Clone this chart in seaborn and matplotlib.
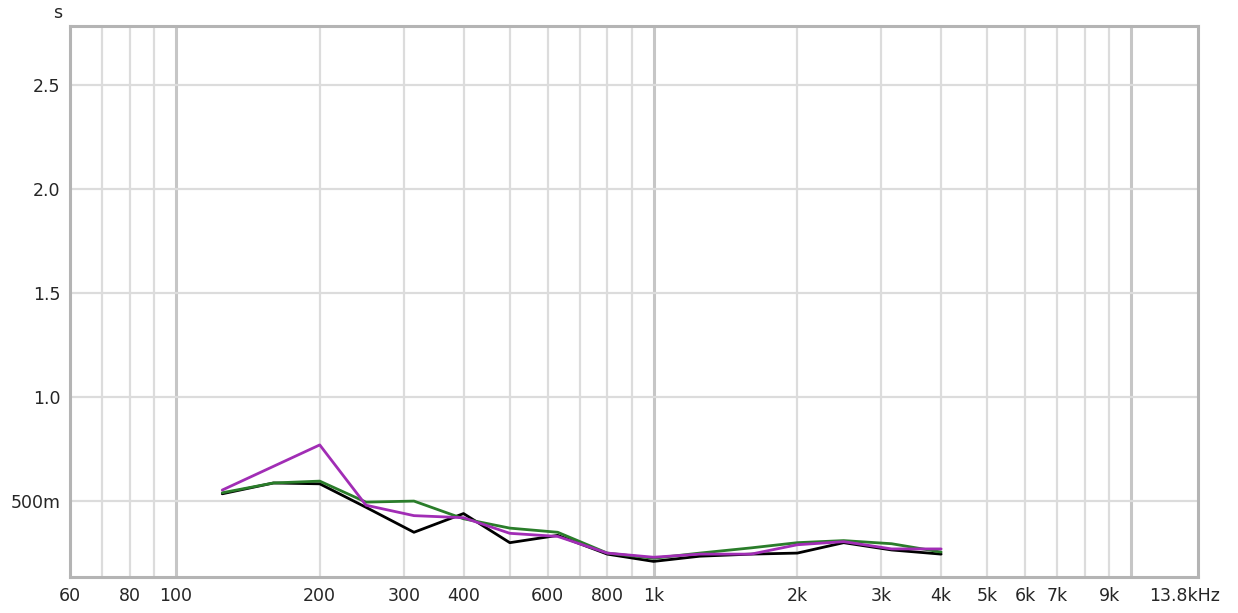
import pandas as pd
import numpy as np
import matplotlib.pyplot as plt
import matplotlib.transforms as mtransforms
import seaborn as sns
from matplotlib.ticker import FixedLocator, NullFormatter, NullLocator

sns.set_theme(style="white")
plt.rcParams['font.family'] = ['DejaVu Sans']

# 1/3-octave band centre frequencies (Hz)
freqs = [125, 160, 200, 250, 315, 400, 500, 630, 800, 1000,
         1250, 1600, 2000, 2500, 3150, 4000]

# reverberation time (s) per measurement
t_black = [0.535, 0.587, 0.583, 0.47, 0.35, 0.44, 0.30, 0.335, 0.245, 0.21,
           0.235, 0.245, 0.25, 0.30, 0.265, 0.245]
t_green = [0.54, 0.587, 0.596, 0.495, 0.50, 0.415, 0.37, 0.35, 0.25, 0.225,
           0.25, 0.275, 0.30, 0.31, 0.295, 0.255]
# magenta has no 160 Hz value: goes straight from 125 to 200 Hz
t_magenta = [0.553, None, 0.77, 0.48, 0.43, 0.42, 0.345, 0.33, 0.25, 0.23,
             0.245, 0.245, 0.29, 0.305, 0.27, 0.27]

series_names = ['black', 'green', 'magenta']
series_colors = {'black': '#000000', 'green': '#2a7d2a', 'magenta': '#a12db5'}

rows = []
for name, vals in zip(series_names, [t_black, t_green, t_magenta]):
    for f, v in zip(freqs, vals):
        if v is not None:
            rows.append({'freq': f, 'rt': v, 'series': name})
df = pd.DataFrame(rows)

x_ticks = [60, 80, 100, 200, 300, 400, 600, 800, 1000, 2000, 3000, 4000,
           5000, 6000, 7000, 9000, 13800]
x_labels = ['60', '80', '100', '200', '300', '400', '600', '800', '1k', '2k',
            '3k', '4k', '5k', '6k', '7k', '9k', '13.8kHz']
y_ticks = [0.5, 1.0, 1.5, 2.0, 2.5]
y_labels = ['500m', '1.0', '1.5', '2.0', '2.5']

fig = plt.figure(figsize=(12.38, 6.13), dpi=100)
ax = fig.add_axes([70 / 1238, 1 - 577 / 613, 1128 / 1238, 551 / 613])

x_min, x_max = 60, 13800
y_min, y_max = 0.135, 2.784

# grid
minor_v = [70, 80, 90] + list(range(200, 1000, 100)) + list(range(2000, 10000, 1000))
for x in minor_v:
    ax.axvline(x, color='#dcdcdc', lw=1.6, zorder=0)
for x in [100, 1000, 10000]:
    ax.axvline(x, color='#c6c6c6', lw=2.2, zorder=0)
for y in y_ticks:
    ax.axhline(y, color='#dcdcdc', lw=1.6, zorder=0)

sns.lineplot(data=df, x='freq', y='rt', hue='series', palette=series_colors,
             hue_order=series_names, linewidth=2, ax=ax, legend=False,
             estimator=None, sort=True, zorder=3)

ax.set_xscale('log')
ax.set_xlim(x_min, x_max)
ax.set_ylim(y_min, y_max)
ax.xaxis.set_major_locator(FixedLocator(x_ticks))
ax.set_xticklabels(x_labels)
ax.xaxis.set_minor_locator(NullLocator())
ax.xaxis.set_minor_formatter(NullFormatter())
ax.set_yticks(y_ticks)
ax.set_yticklabels(y_labels)
ax.tick_params(axis='both', length=0, labelsize=12.5, colors='#262626')
ax.tick_params(axis='x', pad=7)
ax.tick_params(axis='y', pad=7)
ax.set_xlabel('')
ax.set_ylabel('')

# shift the last label ("13.8kHz") left so it stays inside the figure
last = ax.get_xticklabels()[-1]
last.set_transform(last.get_transform() +
                   mtransforms.ScaledTranslation(-13 / 100, 0, fig.dpi_scale_trans))

for s in ax.spines.values():
    s.set_color('#b4b4b4')
    s.set_linewidth(2.2)

fig.text(58 / 1238, 1 - 13 / 613, 's', ha='center', va='center',
         fontsize=12.5, color='#262626')

fig.savefig('out.png', dpi=100)
